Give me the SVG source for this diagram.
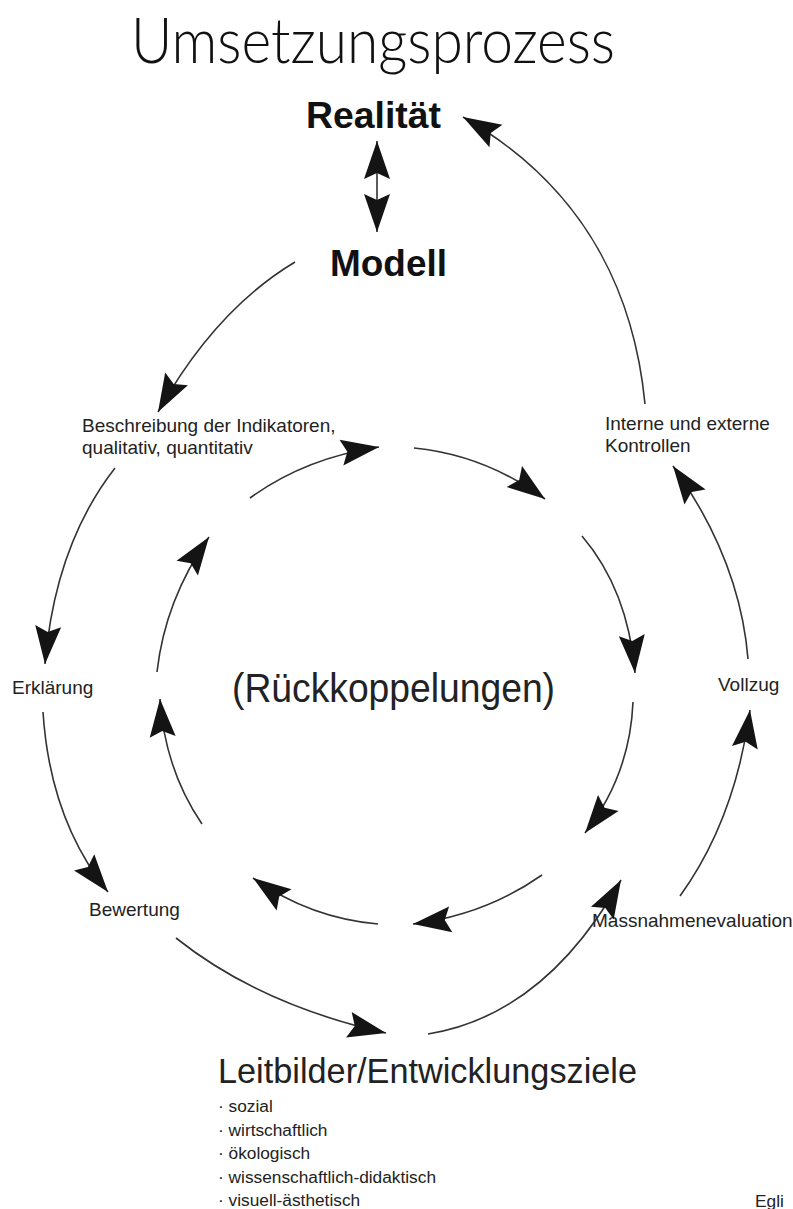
<svg xmlns="http://www.w3.org/2000/svg" width="793" height="1209" viewBox="0 0 793 1209">
<defs>
<style>
.t{font-family:"Liberation Sans",Arial,sans-serif;fill:#222}
.s{font-size:19px}
.l{font-size:17.3px}
.b{font-weight:bold;font-size:37px;fill:#111}
.c{fill:none;stroke:#333;stroke-width:1.6}
</style>
<marker id="ah" viewBox="-40 -14 42 28" refX="0" refY="0" markerWidth="42" markerHeight="28" markerUnits="userSpaceOnUse" orient="auto-start-reverse">
<path d="M0,0 L-38,-13 L-32,0 L-38,13 Z" fill="#141414"/>
</marker>
</defs>
<rect width="793" height="1209" fill="#fff"/>
<g id="title"><text x="131" y="63" font-family="Lato,'Liberation Sans',sans-serif" font-weight="300" font-size="64" textLength="484" lengthAdjust="spacingAndGlyphs" fill="#111">Umsetzungsprozess</text></g>
<g id="realitaet"><text class="t b" x="306" y="128" textLength="135" lengthAdjust="spacingAndGlyphs">Realität</text></g>
<g id="modell"><text class="t b" x="330" y="276" textLength="117" lengthAdjust="spacingAndGlyphs">Modell</text></g>
<g id="beschreibung"><text class="t s" x="82" y="432">Beschreibung der Indikatoren,</text><text class="t s" x="82" y="454">qualitativ, quantitativ</text></g>
<g id="erklaerung"><text class="t s" x="12" y="694">Erklärung</text></g>
<g id="bewertung"><text class="t s" x="89" y="916">Bewertung</text></g>
<g id="massnahmen"><text class="t s" x="592" y="927">Massnahmenevaluation</text></g>
<g id="vollzug"><text class="t s" x="718" y="691">Vollzug</text></g>
<g id="kontrollen"><text class="t s" x="605" y="430">Interne und externe</text><text class="t s" x="605" y="452">Kontrollen</text></g>
<g id="rueckkopplung"><text class="t" x="232" y="702" font-size="40" textLength="323" lengthAdjust="spacingAndGlyphs">(Rückkoppelungen)</text></g>
<g id="leitbilder"><text class="t" x="218" y="1083" font-size="35" textLength="419" lengthAdjust="spacingAndGlyphs" fill="#111">Leitbilder/Entwicklungsziele</text>
<text class="t l" x="218" y="1112">· sozial</text>
<text class="t l" x="218" y="1135.5">· wirtschaftlich</text>
<text class="t l" x="218" y="1159">· ökologisch</text>
<text class="t l" x="218" y="1182.5">· wissenschaftlich-didaktisch</text>
<text class="t l" x="218" y="1206">· visuell-ästhetisch</text></g>
<g id="egli"><text class="t l" x="755" y="1207">Egli</text></g>
<g id="connectors">
<path class="c" d="M377,141 L377,232" marker-start="url(#ah)" marker-end="url(#ah)"/>
<path class="c" d="M295,262 Q215,310 158,412" marker-end="url(#ah)"/>
<path class="c" d="M115,468 Q55,545 45,664" marker-end="url(#ah)"/>
<path class="c" d="M43,712 Q50,820 108,892" marker-end="url(#ah)"/>
<path class="c" d="M176,938 Q260,1005 386,1033" marker-end="url(#ah)"/>
<path class="c" d="M428,1034 Q545,1015 621,880" marker-end="url(#ah)"/>
<path class="c" d="M680,896 Q735,820 750,710" marker-end="url(#ah)"/>
<path class="c" d="M748,659 Q740,560 673,466" marker-end="url(#ah)"/>
<path class="c" d="M645,404 C635,300 590,190 463,117" marker-end="url(#ah)"/>
<path class="c" d="M250,498 Q305,458 379,447" marker-end="url(#ah)"/>
<path class="c" d="M414,448 Q485,455 545,499" marker-end="url(#ah)"/>
<path class="c" d="M582,536 Q628,590 635,673" marker-end="url(#ah)"/>
<path class="c" d="M633,702 Q630,775 585,833" marker-end="url(#ah)"/>
<path class="c" d="M542,875 Q485,915 413,924" marker-end="url(#ah)"/>
<path class="c" d="M378,924 Q310,918 253,878" marker-end="url(#ah)"/>
<path class="c" d="M202,824 Q165,770 160,699" marker-end="url(#ah)"/>
<path class="c" d="M157,672 Q165,600 209,537" marker-end="url(#ah)"/>
</g>
</svg>
